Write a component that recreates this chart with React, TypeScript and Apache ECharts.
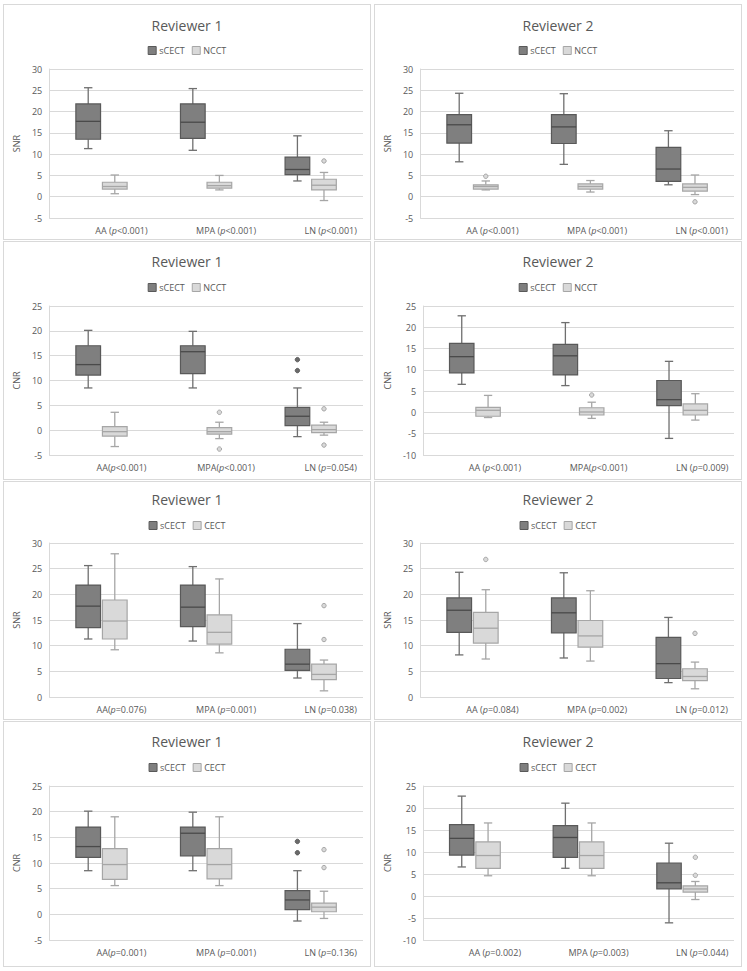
import React, { useEffect, useRef } from 'react';
import * as echarts from 'echarts';

// ---------- DATA ----------
const categories = ['AA', 'MPA', 'LN'];
const reviewerTitles = ['Reviewer 1', 'Reviewer 2'];

// each row: [min, Q1, median, Q3, max] for AA, MPA, LN
const r1SnrSCECT = [[11.3, 13.5, 17.7, 21.8, 25.6], [10.9, 13.7, 17.5, 21.8, 25.4], [3.7, 5.2, 6.4, 9.3, 14.3]];
const r1SnrNCCT = [[0.7, 1.8, 2.4, 3.4, 5.1], [1.6, 2.0, 2.6, 3.4, 5.0], [-0.9, 1.6, 2.7, 4.1, 5.7]];
const r1SnrNCCTOut = [[2, 8.4]];

const r2SnrSCECT = [[8.2, 12.6, 16.9, 19.3, 24.3], [7.6, 12.5, 16.4, 19.3, 24.2], [2.8, 3.6, 6.5, 11.6, 15.5]];
const r2SnrNCCT = [[1.6, 1.8, 2.4, 2.8, 3.7], [1.1, 1.8, 2.4, 3.0, 3.8], [0.5, 1.3, 2.2, 3.0, 5.1]];
const r2SnrNCCTOut = [[0, 4.8], [2, -1.2]];

const r1CnrSCECT = [[8.5, 11.1, 13.2, 17.0, 20.1], [8.5, 11.4, 15.8, 17.0, 19.9], [-1.3, 0.9, 2.8, 4.6, 8.5]];
const r1CnrSCECTOut = [[2, 14.2], [2, 12.0]];
const r1CnrNCCT = [[-3.3, -1.2, -0.3, 0.7, 3.6], [-1.7, -0.8, -0.3, 0.5, 1.6], [-1.0, -0.5, 0.1, 1.0, 1.6]];
const r1CnrNCCTOut = [[1, 3.6], [1, -3.8], [2, 4.3], [2, -3.0]];

const r2CnrSCECT = [[6.6, 9.3, 13.1, 16.2, 22.7], [6.3, 8.8, 13.3, 16.0, 21.1], [-6.1, 1.6, 3.0, 7.5, 12.0]];
const r2CnrNCCT = [[-1.2, -0.9, 0.5, 1.2, 4.0], [-1.4, -0.6, 0.1, 1.1, 2.4], [-1.8, -0.6, 0.5, 2.0, 4.4]];
const r2CnrNCCTOut = [[1, 4.1]];

const r1SnrCECT = [[9.2, 11.3, 14.8, 18.9, 27.9], [8.6, 10.3, 12.6, 16.0, 23.0], [1.2, 3.4, 4.4, 6.4, 7.2]];
const r1SnrCECTOut = [[2, 17.8], [2, 11.2]];

const r2SnrCECT = [[7.4, 10.5, 13.4, 16.5, 20.9], [7.0, 9.7, 11.9, 14.9, 20.7], [1.6, 3.2, 4.0, 5.5, 6.8]];
const r2SnrCECTOut = [[0, 26.8], [2, 12.4]];

const r1CnrCECT = [[5.6, 6.8, 9.7, 12.8, 19.0], [5.6, 6.9, 9.7, 12.8, 19.0], [-0.8, 0.5, 1.4, 2.2, 4.5]];
const r1CnrCECTOut = [[2, 12.6], [2, 9.1]];

const r2CnrCECT = [[4.6, 6.3, 9.2, 12.3, 16.6], [4.6, 6.3, 9.2, 12.3, 16.6], [-0.8, 0.9, 1.6, 2.3, 3.3]];
const r2CnrCECTOut = [[2, 8.8], [2, 4.7]];

const labelsP1 = ['AA (p<0.001)', 'MPA (p<0.001)', 'LN (p<0.001)'];
const labelsP2 = ['AA (p<0.001)', 'MPA (p<0.001)', 'LN (p<0.001)'];
const labelsP3 = ['AA(p<0.001)', 'MPA(p<0.001)', 'LN (p=0.054)'];
const labelsP4 = ['AA (p<0.001)', 'MPA(p<0.001)', 'LN (p=0.009)'];
const labelsP5 = ['AA(p=0.076)', 'MPA (p=0.001)', 'LN (p=0.038)'];
const labelsP6 = ['AA (p=0.084)', 'MPA (p=0.002)', 'LN (p=0.012)'];
const labelsP7 = ['AA(p=0.001)', 'MPA (p=0.001)', 'LN (p=0.136)'];
const labelsP8 = ['AA (p=0.002)', 'MPA (p=0.003)', 'LN (p=0.044)'];

type Panel = {
  title: string; yName: string; secondName: string;
  s: number[][]; sOut: number[][]; c: number[][]; cOut: number[][];
  labels: string[]; yMin: number; yMax: number;
};

const panels: Panel[] = [
  { title: reviewerTitles[0], yName: 'SNR', secondName: 'NCCT', s: r1SnrSCECT, sOut: [], c: r1SnrNCCT, cOut: r1SnrNCCTOut, labels: labelsP1, yMin: -5, yMax: 30 },
  { title: reviewerTitles[1], yName: 'SNR', secondName: 'NCCT', s: r2SnrSCECT, sOut: [], c: r2SnrNCCT, cOut: r2SnrNCCTOut, labels: labelsP2, yMin: -5, yMax: 30 },
  { title: reviewerTitles[0], yName: 'CNR', secondName: 'NCCT', s: r1CnrSCECT, sOut: r1CnrSCECTOut, c: r1CnrNCCT, cOut: r1CnrNCCTOut, labels: labelsP3, yMin: -5, yMax: 25 },
  { title: reviewerTitles[1], yName: 'CNR', secondName: 'NCCT', s: r2CnrSCECT, sOut: [], c: r2CnrNCCT, cOut: r2CnrNCCTOut, labels: labelsP4, yMin: -10, yMax: 25 },
  { title: reviewerTitles[0], yName: 'SNR', secondName: 'CECT', s: r1SnrSCECT, sOut: [], c: r1SnrCECT, cOut: r1SnrCECTOut, labels: labelsP5, yMin: 0, yMax: 30 },
  { title: reviewerTitles[1], yName: 'SNR', secondName: 'CECT', s: r2SnrSCECT, sOut: [], c: r2SnrCECT, cOut: r2SnrCECTOut, labels: labelsP6, yMin: 0, yMax: 30 },
  { title: reviewerTitles[0], yName: 'CNR', secondName: 'CECT', s: r1CnrSCECT, sOut: r1CnrSCECTOut, c: r1CnrCECT, cOut: r1CnrCECTOut, labels: labelsP7, yMin: -5, yMax: 25 },
  { title: reviewerTitles[1], yName: 'CNR', secondName: 'CECT', s: r2CnrSCECT, sOut: [], c: r2CnrCECT, cOut: r2CnrCECTOut, labels: labelsP8, yMin: -10, yMax: 25 },
];

// ---------- LAYOUT ----------
const colLeft = [3, 374];
const colWidth = 368;
const rowTop = [4, 241, 481, 721];
const rowHeight = [236, 239, 239, 246];
const rowTitleTop = [8, 7, 5, 7];
const rowLegendTop = [36, 36, 34, 36];
const rowGridTop = [64, 64, 61, 64];
const rowGridHeight = [149, 149, 154, 154];
const colGridLeft = [41, 37];
const colGridWidth = [318, 322];
const colNameGap = [28, 26];

const FONT = "'Open Sans', 'Noto Sans', sans-serif";
const DARK = { fill: '#7f7f7f', border: '#595959', whisker: '#6f6f6f', median: '#4a4a4a', outFill: '#6a6a6a', outStroke: '#595959' };
const LIGHT = { fill: '#d9d9d9', border: '#a6a6a6', whisker: '#a6a6a6', median: '#a6a6a6', outFill: '#d9d9d9', outStroke: '#a6a6a6' };
const OFFSET = 0.127;
const BOXW = 0.236;

function boxSeries(name: string, data: number[][], side: number, st: any) {
  return {
    type: 'custom', name,
    data: data.map((d, i) => [i, ...d]),
    encode: { x: 0, y: [1, 2, 3, 4, 5] },
    renderItem: (params: any, api: any) => {
      const ci = api.value(0);
      const ys = [1, 2, 3, 4, 5].map((k) => api.coord([ci, api.value(k)])[1]);
      const base = api.coord([ci, api.value(3)])[0];
      const band = api.size([1, 0])[0];
      const cx = base + side * band * OFFSET;
      const w = band * BOXW;
      const cap = w * 0.34;
      const [yMin, yQ1, yMed, yQ3, yMax] = ys;
      const ls = { stroke: st.whisker, lineWidth: 1.3 };
      return {
        type: 'group',
        children: [
          { type: 'line', shape: { x1: cx, y1: yMax, x2: cx, y2: yQ3 }, style: ls },
          { type: 'line', shape: { x1: cx, y1: yQ1, x2: cx, y2: yMin }, style: ls },
          { type: 'line', shape: { x1: cx - cap / 2, y1: yMax, x2: cx + cap / 2, y2: yMax }, style: ls },
          { type: 'line', shape: { x1: cx - cap / 2, y1: yMin, x2: cx + cap / 2, y2: yMin }, style: ls },
          { type: 'rect', shape: { x: cx - w / 2, y: yQ3, width: w, height: yQ1 - yQ3 }, style: { fill: st.fill, stroke: st.border, lineWidth: 1.2 } },
          { type: 'line', shape: { x1: cx - w / 2, y1: yMed, x2: cx + w / 2, y2: yMed }, style: { stroke: st.median, lineWidth: 1.3 } },
        ],
      };
    },
  };
}

function outlierSeries(name: string, data: number[][], side: number, st: any) {
  return {
    type: 'custom', name,
    data,
    encode: { x: 0, y: 1 },
    renderItem: (params: any, api: any) => {
      const ci = api.value(0);
      const p = api.coord([ci, api.value(1)]);
      const band = api.size([1, 0])[0];
      return {
        type: 'circle',
        shape: { cx: p[0] + side * band * OFFSET, cy: p[1], r: 2.2 },
        style: { fill: st.outFill, stroke: st.outStroke, lineWidth: 1 },
      };
    },
  };
}

function labelRich(s: string) {
  const i = s.indexOf('(p');
  if (i < 0) return '{a|' + s + '}';
  return '{a|' + s.slice(0, i + 1) + '}{i|p}{a|' + s.slice(i + 2) + '}';
}

function buildOption(p: Panel, idx: number) {
  const col = idx % 2;
  const row = Math.floor(idx / 2);
  return {
    animation: false,
    backgroundColor: '#ffffff',
    title: {
      text: p.title, left: 'center', top: rowTitleTop[row],
      textStyle: { fontFamily: FONT, fontSize: 14, fontWeight: 'normal', color: '#595959' },
    },
    legend: {
      top: rowLegendTop[row], left: 'center', itemWidth: 8, itemHeight: 8, itemGap: 7,
      textStyle: { fontFamily: FONT, fontSize: 9, color: '#595959', padding: [0, 0, 0, -2] },
      data: [
        { name: 'sCECT', icon: 'rect', itemStyle: { color: DARK.fill, borderColor: DARK.border, borderWidth: 1 } },
        { name: p.secondName, icon: 'rect', itemStyle: { color: LIGHT.fill, borderColor: LIGHT.border, borderWidth: 1 } },
      ],
    },
    grid: { left: colGridLeft[col], top: rowGridTop[row], width: colGridWidth[col], height: rowGridHeight[row] },
    xAxis: {
      type: 'category', data: categories,
      axisLine: { show: false }, axisTick: { show: false }, splitLine: { show: false },
      axisLabel: {
        interval: 0, hideOverlap: false,
        margin: 8, padding: [0, 0, 0, 40],
        formatter: (_v: string, i: number) => labelRich(p.labels[i]),
        rich: {
          a: { fontFamily: FONT, fontSize: 9, color: '#595959' },
          i: { fontFamily: FONT, fontSize: 9, color: '#595959', fontStyle: 'italic' },
        },
      },
    },
    yAxis: {
      type: 'value', min: p.yMin, max: p.yMax, interval: 5,
      name: p.yName, nameLocation: 'middle', nameGap: colNameGap[col],
      nameTextStyle: { fontFamily: FONT, fontSize: 9, color: '#595959' },
      axisLine: { show: true, lineStyle: { color: '#d9d9d9' } },
      axisTick: { show: false },
      axisLabel: { fontFamily: FONT, fontSize: 9, color: '#595959', margin: 7 },
      splitLine: { lineStyle: { color: '#d9d9d9' } },
    },
    series: [
      boxSeries('sCECT', p.s, -1, DARK),
      boxSeries(p.secondName, p.c, 1, LIGHT),
      outlierSeries('sCECT outliers', p.sOut, -1, DARK),
      outlierSeries(p.secondName + ' outliers', p.cOut, 1, LIGHT),
    ],
  };
}

function ChartPanel({ idx }: { idx: number }) {
  const ref = useRef<HTMLDivElement>(null);
  useEffect(() => {
    if (!ref.current) return;
    const chart = echarts.init(ref.current, undefined, { renderer: 'svg' });
    chart.setOption(buildOption(panels[idx], idx) as any);
    return () => chart.dispose();
  }, [idx]);
  const col = idx % 2;
  const row = Math.floor(idx / 2);
  return (
    <div
      style={{
        position: 'absolute', left: colLeft[col], top: rowTop[row], width: colWidth, height: rowHeight[row],
        border: '1px solid #d9d9d9', boxSizing: 'border-box', background: '#fff',
      }}
    >
      <div ref={ref} style={{ width: colWidth - 2, height: rowHeight[row] - 2 }} />
    </div>
  );
}

export default function App() {
  return (
    <div style={{ position: 'absolute', left: 0, top: 0, width: 747, height: 971, background: '#ffffff' }}>
      {panels.map((_, i) => (
        <ChartPanel key={i} idx={i} />
      ))}
    </div>
  );
}
